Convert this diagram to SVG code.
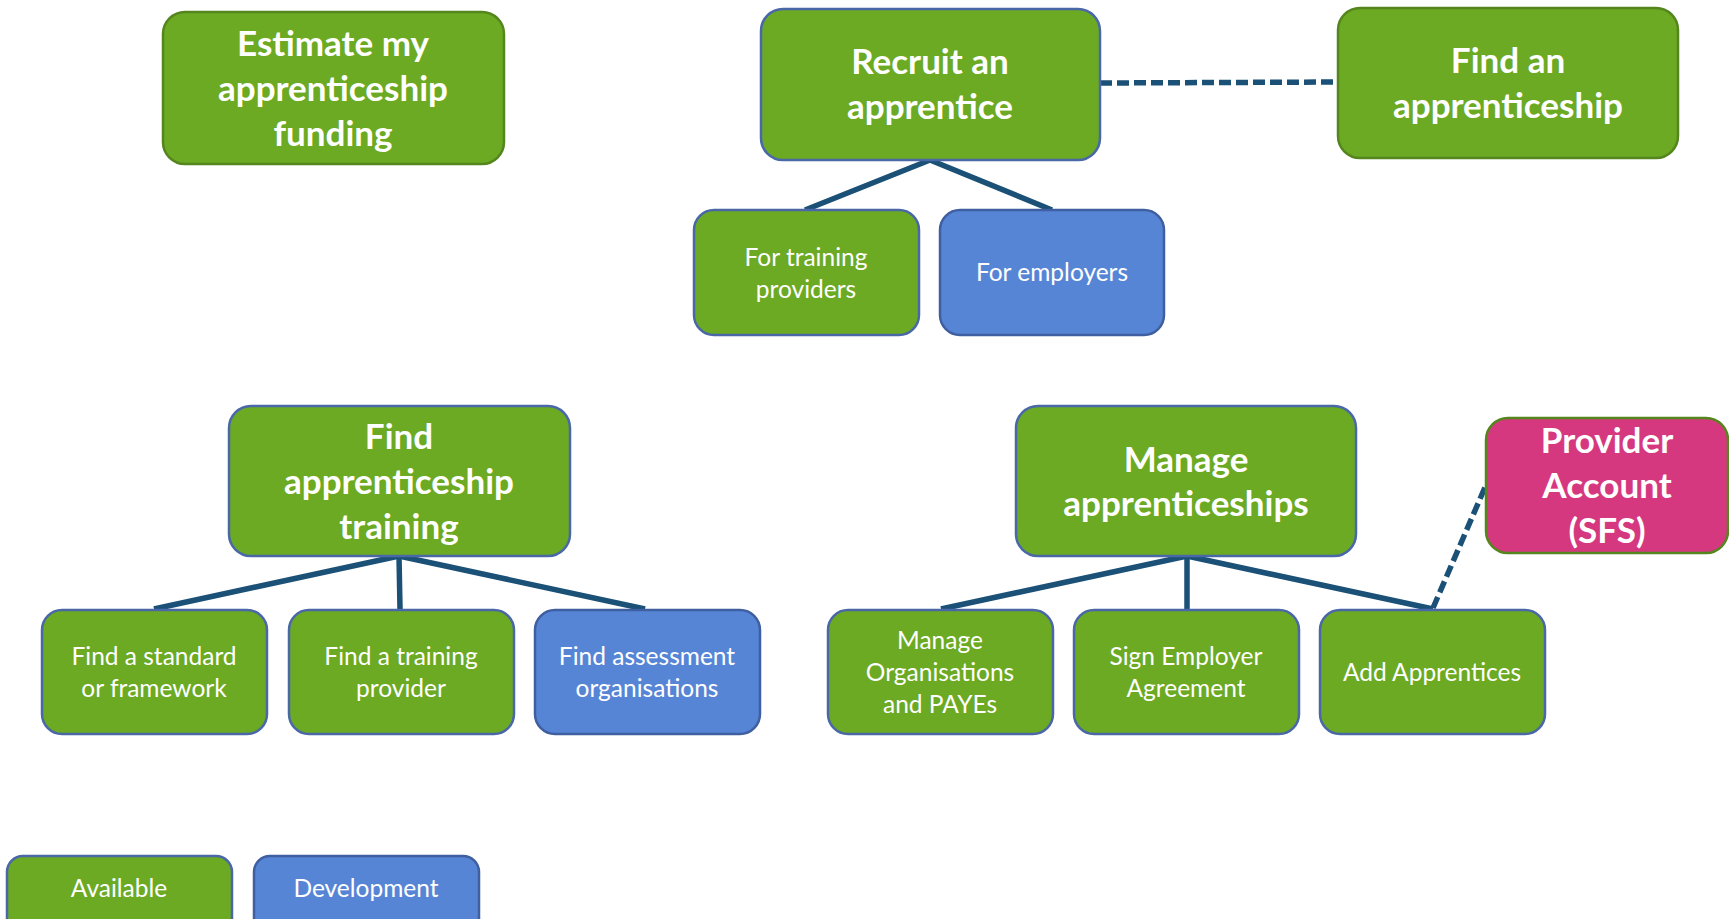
<svg xmlns="http://www.w3.org/2000/svg" width="1729" height="919" viewBox="0 0 1729 919">
<style>
.g{fill:#6BAA22;stroke:#4A68A8;stroke-width:2.5}
.gg{fill:#6BAA22;stroke:#55861E;stroke-width:2.5}
.b{fill:#5785D6;stroke:#3F5FA0;stroke-width:2.5}
.p{fill:#D6387F;stroke:#55861E;stroke-width:2.5}
.big{font-family:Lato,"Open Sans",sans-serif;font-weight:bold;font-size:35px;fill:#fff;text-anchor:middle}
.sm{font-family:Lato,"Open Sans",sans-serif;font-size:24.5px;fill:#fff;text-anchor:middle}
.ln{stroke:#1B5077;stroke-width:5.5;fill:none}
.ds{stroke:#1B5077;stroke-width:5.5;fill:none;stroke-dasharray:12 5}
</style>
<rect width="1729" height="919" fill="#fff"/>
<g id="connectors">
<line class="ln" x1="930" y1="160" x2="805" y2="210"/>
<line class="ln" x1="930" y1="160" x2="1052" y2="210"/>
<line class="ds" x1="1100" y1="83" x2="1338" y2="82"/>
<line class="ln" x1="399" y1="556" x2="154" y2="609"/>
<line class="ln" x1="399" y1="556" x2="400" y2="609"/>
<line class="ln" x1="399" y1="556" x2="645" y2="609"/>
<line class="ln" x1="1187" y1="556" x2="941" y2="609"/>
<line class="ln" x1="1187" y1="556" x2="1187" y2="609"/>
<line class="ln" x1="1187" y1="556" x2="1433" y2="609"/>
<line class="ds" x1="1433" y1="608" x2="1486" y2="485"/>
</g>
<g id="estimate">
<rect class="gg" x="163" y="12" width="341" height="152" rx="22"/>
<text class="big" x="333" y="56">Estimate my</text>
<text class="big" x="333" y="101">apprenticeship</text>
<text class="big" x="333" y="146">funding</text>
</g>
<g id="recruit">
<rect class="g" x="761" y="9" width="339" height="151" rx="22"/>
<text class="big" x="930" y="74">Recruit an</text>
<text class="big" x="930" y="119">apprentice</text>
</g>
<g id="find-apprenticeship">
<rect class="gg" x="1338" y="8" width="340" height="150" rx="22"/>
<text class="big" x="1508" y="73">Find an</text>
<text class="big" x="1508" y="118">apprenticeship</text>
</g>
<g id="for-training-providers">
<rect class="g" x="694" y="210" width="225" height="125" rx="20"/>
<text class="sm" x="806" y="266">For training</text>
<text class="sm" x="806" y="298">providers</text>
</g>
<g id="for-employers">
<rect class="b" x="940" y="210" width="224" height="125" rx="20"/>
<text class="sm" x="1052" y="281">For employers</text>
</g>
<g id="find-training">
<rect class="g" x="229" y="406" width="341" height="150" rx="22"/>
<text class="big" x="399" y="449">Find</text>
<text class="big" x="399" y="494">apprenticeship</text>
<text class="big" x="399" y="539">training</text>
</g>
<g id="find-standard">
<rect class="g" x="42" y="610" width="225" height="124" rx="20"/>
<text class="sm" x="154" y="665">Find a standard</text>
<text class="sm" x="154" y="697">or framework</text>
</g>
<g id="find-provider">
<rect class="g" x="289" y="610" width="225" height="124" rx="20"/>
<text class="sm" x="401" y="665">Find a training</text>
<text class="sm" x="401" y="697">provider</text>
</g>
<g id="find-assessment">
<rect class="b" x="535" y="610" width="225" height="124" rx="20"/>
<text class="sm" x="647" y="665">Find assessment</text>
<text class="sm" x="647" y="697">organisations</text>
</g>
<g id="manage">
<rect class="g" x="1016" y="406" width="340" height="150" rx="22"/>
<text class="big" x="1186" y="472">Manage</text>
<text class="big" x="1186" y="516">apprenticeships</text>
</g>
<g id="manage-orgs">
<rect class="g" x="828" y="610" width="225" height="124" rx="20"/>
<text class="sm" x="940" y="649">Manage</text>
<text class="sm" x="940" y="681">Organisations</text>
<text class="sm" x="940" y="713">and PAYEs</text>
</g>
<g id="sign-agreement">
<rect class="g" x="1074" y="610" width="225" height="124" rx="20"/>
<text class="sm" x="1186" y="665">Sign Employer</text>
<text class="sm" x="1186" y="697">Agreement</text>
</g>
<g id="add-apprentices">
<rect class="g" x="1320" y="610" width="225" height="124" rx="20"/>
<text class="sm" x="1432" y="681">Add Apprentices</text>
</g>
<g id="provider-account">
<rect class="p" x="1486" y="418" width="242" height="135" rx="22"/>
<text class="big" x="1607" y="453">Provider</text>
<text class="big" x="1607" y="498">Account</text>
<text class="big" x="1607" y="543">(SFS)</text>
</g>
<g id="legend-available">
<rect class="g" x="7" y="856" width="225" height="80" rx="16"/>
<text class="sm" x="119" y="897">Available</text>
</g>
<g id="legend-development">
<rect class="b" x="254" y="856" width="225" height="80" rx="16"/>
<text class="sm" x="366" y="897">Development</text>
</g>
</svg>
